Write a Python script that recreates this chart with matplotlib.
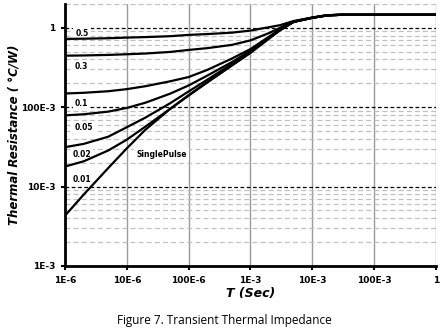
import matplotlib
matplotlib.use('Agg')
import matplotlib.pyplot as plt
from matplotlib.ticker import FixedLocator, NullFormatter

# pulse width (s)
t = [1e-6, 2e-6, 5e-6, 1e-5, 2e-5, 5e-5, 1e-4, 2e-4, 5e-4, 1e-3,
     2e-3, 3e-3, 5e-3, 1e-2, 1.5e-2, 2e-2, 3e-2, 1.0]

# transient thermal resistance (C/W), per duty cycle
z_d50 = [0.726, 0.73, 0.74, 0.754, 0.765, 0.785, 0.815, 0.835, 0.87, 0.924,
         1.02, 1.08, 1.22, 1.35, 1.42, 1.45, 1.46, 1.46]
z_d30 = [0.446, 0.449, 0.456, 0.465, 0.475, 0.497, 0.527, 0.555, 0.61, 0.695,
         0.86, 1.0, 1.2, 1.34, 1.41, 1.445, 1.46, 1.46]
z_d10 = [0.149, 0.152, 0.159, 0.169, 0.184, 0.212, 0.24, 0.295, 0.41, 0.54,
         0.775, 0.96, 1.2, 1.34, 1.41, 1.445, 1.46, 1.46]
z_d05 = [0.079, 0.0815, 0.088, 0.098, 0.114, 0.148, 0.188, 0.25, 0.37, 0.515,
         0.755, 0.945, 1.19, 1.34, 1.41, 1.445, 1.46, 1.46]
z_d02 = [0.0314, 0.0345, 0.0425, 0.056, 0.074, 0.112, 0.158, 0.222, 0.35, 0.50,
         0.745, 0.94, 1.19, 1.34, 1.41, 1.445, 1.46, 1.46]
z_d01 = [0.0179, 0.0208, 0.0285, 0.039, 0.057, 0.095, 0.142, 0.207, 0.338, 0.49,
         0.74, 0.935, 1.19, 1.34, 1.41, 1.445, 1.46, 1.46]
z_single = [0.0043, 0.0079, 0.0171, 0.0303, 0.052, 0.095, 0.14, 0.205, 0.335, 0.483,
            0.733, 0.93, 1.19, 1.34, 1.41, 1.445, 1.46, 1.46]

curves = [z_d50, z_d30, z_d10, z_d05, z_d02, z_d01, z_single]

# curve labels: (text, t, Z)
labels = [('0.5', 1.88e-6, 0.84), ('0.3', 1.85e-6, 0.33), ('0.1', 1.85e-6, 0.112),
          ('0.05', 2.0e-6, 0.056), ('0.02', 1.85e-6, 0.0254), ('0.01', 1.9e-6, 0.0122),
          ('SinglePulse', 3.67e-5, 0.0254)]

x_ticks = [1e-6, 1e-5, 1e-4, 1e-3, 1e-2, 1e-1, 1]
x_ticklabels = ['1E-6', '10E-6', '100E-6', '1E-3', '10E-3', '100E-3', '1']
y_ticks = [1e-3, 1e-2, 1e-1, 1]
y_ticklabels = ['1E-3', '10E-3', '100E-3', '1']

fig = plt.figure(figsize=(4.48, 3.30), dpi=100)
ax = fig.add_axes([0.145, 0.194, 0.828, 0.794])

ax.set_xscale('log')
ax.set_yscale('log')
ax.set_xlim(1e-6, 1)
ax.set_ylim(1e-3, 2)

# gridlines
for xt in x_ticks:
    ax.axvline(xt, color='#9a9a9a', lw=1.0, zorder=1)
for dec in [1e-3, 1e-2, 1e-1, 1]:
    for m in range(2, 10):
        yv = dec * m
        if yv <= 2:
            ax.axhline(yv, color='#c0c0c0', lw=0.9, ls=(0, (4, 2.5)), zorder=1)
for yt in [1e-2, 1e-1, 1]:
    ax.axhline(yt, color='black', lw=0.9, ls=(0, (3, 2)), zorder=1.5)

for z in curves:
    ax.plot(t, z, color='black', lw=1.6, zorder=4, solid_capstyle='round',
            solid_joinstyle='round')

for txt, tx, zy in labels:
    ax.text(tx, zy, txt, fontsize=5.5, fontweight='bold', ha='center', va='center',
            zorder=3, bbox=dict(facecolor='white', edgecolor='none', pad=1.5))

ax.xaxis.set_major_locator(FixedLocator(x_ticks))
ax.set_xticklabels(x_ticklabels)
ax.xaxis.set_minor_formatter(NullFormatter())
ax.yaxis.set_major_locator(FixedLocator(y_ticks))
ax.set_yticklabels(y_ticklabels)
ax.yaxis.set_minor_formatter(NullFormatter())
ax.tick_params(which='minor', length=0)
ax.tick_params(which='major', length=3, width=1.5, direction='out', labelsize=6.5, pad=4)
for lab in ax.get_xticklabels() + ax.get_yticklabels():
    lab.set_fontweight('bold')

for s in ['top', 'right']:
    ax.spines[s].set_visible(False)
for s in ['left', 'bottom']:
    ax.spines[s].set_linewidth(2)
    ax.spines[s].set_zorder(5)

ax.set_xlabel('T (Sec)', fontsize=9, fontweight='bold', fontstyle='italic', labelpad=2)
ax.set_ylabel('Thermal Resistance ( \u00b0C/W)', fontsize=8.5, fontweight='bold',
              fontstyle='italic')
ax.yaxis.set_label_coords(-0.119, 0.5)

fig.text(0.5, 0.03, 'Figure 7. Transient Thermal Impedance', fontsize=8.5,
         family='Open Sans', ha='center', va='center')

fig.savefig('out.png', dpi=100)
